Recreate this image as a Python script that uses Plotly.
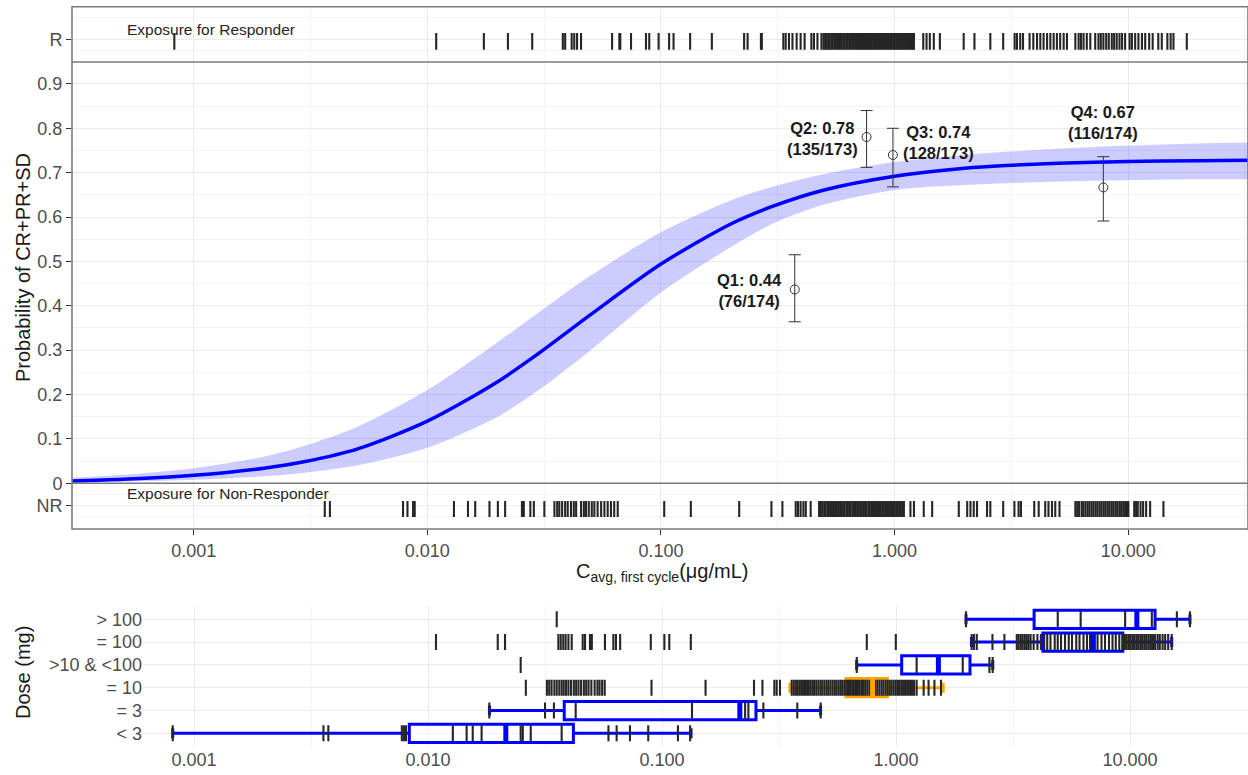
import numpy as np
import plotly.graph_objects as go

FONT = "Liberation Sans, Arial, sans-serif"
W, H = 1248, 775

# ---------------------------------------------------------------------------
# Logistic exposure-response fit: exposure grid (ug/mL), prediction and 95% band
conc_grid = [0.0003, 0.0005, 0.001, 0.002, 0.003, 0.005, 0.01, 0.02, 0.03, 0.05,
             0.1, 0.2, 0.3, 0.5, 1, 2, 3, 5, 10, 20, 33]
prob_fit = [0.005, 0.009, 0.018, 0.034, 0.049, 0.077, 0.140, 0.229, 0.293, 0.380,
            0.494, 0.585, 0.624, 0.661, 0.692, 0.710, 0.716, 0.721, 0.725, 0.727, 0.728]
prob_lo = [0.002, 0.004, 0.008, 0.016, 0.024, 0.040, 0.080, 0.150, 0.210, 0.300,
           0.430, 0.533, 0.585, 0.628, 0.661, 0.672, 0.676, 0.680, 0.683, 0.685, 0.685]
prob_hi = [0.012, 0.019, 0.034, 0.060, 0.085, 0.127, 0.210, 0.318, 0.385, 0.468,
           0.566, 0.638, 0.668, 0.697, 0.724, 0.740, 0.747, 0.754, 0.761, 0.766, 0.768]

# Observed response by exposure quartile
quartiles = ["Q1", "Q2", "Q3", "Q4"]
q_cavg = [0.374, 0.759, 0.984, 7.83]
q_resp = [76, 135, 128, 116]
q_n = [174, 173, 173, 174]
q_ci_lo = [0.364, 0.712, 0.668, 0.591]
q_ci_hi = [0.515, 0.840, 0.800, 0.736]

# Individual exposures (log10 ug/mL): responders and non-responders
resp_log_cavg = [
    -3.083, -1.962, -1.758, -1.655, -1.551, -1.420, -1.410, -1.382, -1.371, -1.359,
    -1.342, -1.209, -1.178, -1.174, -1.128, -1.064, -1.050, -1.010, -0.965, -0.946,
    -0.875, -0.782, -0.644, -0.629, -0.572, -0.568, -0.476, -0.466, -0.452, -0.437,
    -0.419, -0.402, -0.385, -0.356, -0.345, -0.330, -0.313,
    -0.304, -0.297, -0.291, -0.284, -0.279, -0.271, -0.265, -0.258, -0.252, -0.246,
    -0.238, -0.232, -0.226, -0.219, -0.213, -0.206, -0.200, -0.193, -0.187, -0.181,
    -0.174, -0.168, -0.161, -0.155, -0.148, -0.142, -0.135, -0.129, -0.122, -0.116,
    -0.109, -0.103, -0.097, -0.090, -0.084, -0.077, -0.071, -0.064, -0.058, -0.051,
    -0.045, -0.038, -0.032, -0.025, -0.019, -0.013, -0.006, 0.001, 0.007, 0.014,
    0.020, 0.027, 0.033, 0.040, 0.046, 0.053, 0.059, 0.066, 0.072, 0.078, 0.083,
    0.123, 0.137, 0.151, 0.168, 0.194, 0.296, 0.342, 0.410, 0.465, 0.514, 0.524,
    0.538, 0.550, 0.578, 0.594, 0.610, 0.624, 0.638, 0.653, 0.667, 0.681, 0.695,
    0.709, 0.724, 0.738, 0.774, 0.788, 0.798, 0.809, 0.823, 0.838, 0.859, 0.873,
    0.883, 0.894, 0.906, 0.917, 0.930, 0.940, 0.951, 0.963, 0.974, 0.987, 1.006,
    1.016, 1.030, 1.044, 1.059, 1.073, 1.090, 1.105, 1.129, 1.144, 1.168, 1.182,
    1.194, 1.251,
]
nonresp_log_cavg = [
    -2.439, -2.417, -2.104, -2.085, -2.061, -2.054, -1.886, -1.826, -1.795, -1.734,
    -1.698, -1.667, -1.595, -1.587, -1.559, -1.544, -1.499, -1.456, -1.444, -1.435,
    -1.423, -1.410, -1.399, -1.385, -1.373, -1.363, -1.342, -1.330, -1.321, -1.309,
    -1.296, -1.285, -1.271, -1.256, -1.242, -1.228, -1.214, -1.200, -1.185, -0.986,
    -0.872, -0.665, -0.527, -0.480, -0.423, -0.413, -0.402, -0.390, -0.380, -0.359,
    -0.323, -0.316, -0.309, -0.301, -0.295, -0.287, -0.281, -0.274, -0.268, -0.260,
    -0.254, -0.247, -0.241, -0.233, -0.227, -0.220, -0.214, -0.206, -0.200, -0.193,
    -0.188, -0.180, -0.173, -0.167, -0.160, -0.153, -0.146, -0.140, -0.133, -0.126,
    -0.120, -0.112, -0.106, -0.099, -0.092, -0.086, -0.079, -0.072, -0.066, -0.059,
    -0.052, -0.046, -0.039, -0.032, -0.026, -0.019, -0.012, -0.006, 0.001, 0.008,
    0.014, 0.021, 0.027, 0.034, 0.040, 0.068, 0.083, 0.125, 0.161, 0.275, 0.311,
    0.325, 0.339, 0.353, 0.396, 0.410, 0.465, 0.513, 0.531, 0.541, 0.598, 0.617,
    0.645, 0.659, 0.674, 0.688, 0.706, 0.774, 0.782, 0.790, 0.801, 0.808, 0.817,
    0.826, 0.834, 0.843, 0.851, 0.860, 0.868, 0.877, 0.885, 0.894, 0.902, 0.911,
    0.919, 0.928, 0.936, 0.945, 0.953, 0.962, 0.970, 0.979, 0.987, 0.995, 1.001,
    1.026, 1.034, 1.041, 1.053, 1.064, 1.077, 1.094, 1.151,
]

# Exposure by dose group (log10 ug/mL) and box statistics (ug/mL)
dose_groups = ["< 3", "= 3", "= 10", ">10 & <100", "= 100", "> 100"]
dose_log_cavg = {
    "< 3": [-3.091, -2.447, -2.426, -2.112, -2.103, -2.094, -1.894, -1.835, -1.809,
            -1.771, -1.667, -1.604, -1.595, -1.561, -1.429, -1.229, -1.194, -1.137,
            -1.059, -0.932, -0.880],
    "= 3": [-1.738, -1.500, -1.462, -1.369, -0.872, -0.645, -0.631, -0.567, -0.422,
            -0.322],
    "= 10": [-1.582, -1.492, -1.482, -1.472, -1.460, -1.450, -1.439, -1.429, -1.420,
             -1.410, -1.400, -1.389, -1.377, -1.367, -1.357, -1.346, -1.334, -1.324,
             -1.314, -1.302, -1.288, -1.276, -1.267, -1.256, -1.245, -1.045, -0.814,
             -0.607, -0.571, -0.520, -0.510, -0.496, -0.446, -0.437, -0.428, -0.420,
             -0.411, -0.402, -0.393, -0.385, -0.376, -0.367, -0.358, -0.350, -0.341,
             -0.332, -0.323, -0.315, -0.306, -0.297, -0.289, -0.280, -0.271, -0.262,
             -0.254, -0.245, -0.236, -0.228, -0.219, -0.210, -0.201, -0.193, -0.184,
             -0.175, -0.167, -0.158, -0.149, -0.141, -0.132, -0.123, -0.114, -0.106,
             -0.097, -0.088, -0.080, -0.071, -0.062, -0.054, -0.045, -0.036, -0.027,
             -0.019, -0.010, -0.001, 0.008, 0.016, 0.025, 0.034, 0.042, 0.051, 0.060,
             0.068, 0.077, 0.088, 0.118, 0.139, 0.164, 0.192],
    ">10 & <100": [-1.604, -0.168, 0.088, 0.181, 0.285, 0.399, 0.413],
    "= 100": [-1.966, -1.702, -1.671, -1.443, -1.433, -1.422, -1.412, -1.400, -1.386,
              -1.339, -1.329, -1.308, -1.300, -1.244, -1.208, -1.197, -1.179, -1.048,
              -0.990, -0.969, -0.877, -0.125, -0.001, 0.323, 0.333, 0.345, 0.412,
              0.463, 0.516, 0.524, 0.533, 0.541, 0.550, 0.558, 0.566, 0.575, 0.588,
              0.604, 0.619, 0.633, 0.646, 0.660, 0.678, 0.691, 0.705, 0.722, 0.738,
              0.752, 0.770, 0.784, 0.801, 0.816, 0.829, 0.846, 0.861, 0.878, 0.893,
              0.910, 0.925, 0.939, 0.954, 0.969, 0.978, 0.986, 0.995, 1.003, 1.012,
              1.020, 1.029, 1.037, 1.046, 1.054, 1.063, 1.071, 1.080, 1.089, 1.098,
              1.107, 1.118, 1.127, 1.139, 1.150, 1.163, 1.178],
    "> 100": [-1.450, 0.299, 0.691, 0.789, 0.979, 1.029, 1.093, 1.200, 1.256],
}
box_lowerfence = [0.000811, 0.0183, 0.352, 0.679, 2.10, 1.99]
box_q1 = [0.00832, 0.0382, 0.611, 1.057, 4.24, 3.89]
box_median = [0.0215, 0.215, 0.794, 1.517, 6.97, 10.69]
box_q3 = [0.0418, 0.252, 0.918, 2.07, 9.31, 12.79]
box_upperfence = [0.133, 0.476, 1.59, 2.59, 15.07, 18.03]
box_colors = ["#0000FF", "#0000FF", "#FFA500", "#0000FF", "#0000FF", "#0000FF"]

# ---------------------------------------------------------------------------
GRID = "#EBEBEB"
MINOR_GRID = "#F4F4F4"
TICK_FONT = dict(family=FONT, size=18, color="#4D4D4D")
RUG_COLOR = "#262626"
RUG_WIDTH = 2.1
BORDER = "#7A7A7A"


def rug_segments(values, y0, y1):
    xs, ys = [], []
    for v in values:
        xs += [v, v, None]
        ys += [y0, y1, None]
    return xs, ys


fig = go.Figure()

# confidence band and fitted curve
fig.add_trace(go.Scatter(x=conc_grid, y=prob_lo, mode="lines",
                         line=dict(width=0, shape="spline", smoothing=0.8),
                         hoverinfo="skip", showlegend=False))
fig.add_trace(go.Scatter(x=conc_grid, y=prob_hi, mode="lines",
                         line=dict(width=0, shape="spline", smoothing=0.8),
                         fill="tonexty", fillcolor="rgba(0,0,255,0.2)",
                         hoverinfo="skip", showlegend=False))
fig.add_trace(go.Scatter(x=conc_grid, y=prob_fit, mode="lines",
                         line=dict(color="#0000FF", width=3.5, shape="spline", smoothing=0.8),
                         showlegend=False))

# exposure rugs for responders (R, y=1) and non-responders (NR, y=-0.05)
resp_cavg = 10 ** np.array(resp_log_cavg)
nonresp_cavg = 10 ** np.array(nonresp_log_cavg)
rx, ry = rug_segments(resp_cavg, 0.977, 1.015)
fig.add_trace(go.Scatter(x=rx, y=ry, mode="lines", line=dict(color=RUG_COLOR, width=RUG_WIDTH),
                         hoverinfo="skip", showlegend=False))
nx, ny = rug_segments(nonresp_cavg, -0.076, -0.040)
fig.add_trace(go.Scatter(x=nx, y=ny, mode="lines", line=dict(color=RUG_COLOR, width=RUG_WIDTH),
                         hoverinfo="skip", showlegend=False))

# observed quartile response rates with 95% CI
q_prop = [r / n for r, n in zip(q_resp, q_n)]
fig.add_trace(go.Scatter(
    x=q_cavg, y=q_prop, mode="markers",
    marker=dict(symbol="circle-open", size=9, color="#333333", line=dict(width=1)),
    error_y=dict(type="data", symmetric=False,
                 array=[h - p for h, p in zip(q_ci_hi, q_prop)],
                 arrayminus=[p - l for l, p in zip(q_ci_lo, q_prop)],
                 color="#333333", thickness=1, width=6),
    showlegend=False))

# dose-group panel: rugs, boxes, medians
half = 0.35
for i, g in enumerate(dose_groups):
    gx, gy = rug_segments(10 ** np.array(dose_log_cavg[g]), i - half, i + half)
    fig.add_trace(go.Scatter(x=gx, y=gy, mode="lines", xaxis="x2", yaxis="y2",
                             line=dict(color=RUG_COLOR, width=RUG_WIDTH),
                             hoverinfo="skip", showlegend=False))
for i, g in enumerate(dose_groups):
    fig.add_trace(go.Box(
        y=[i], q1=[box_q1[i]], median=[box_median[i]], q3=[box_q3[i]],
        lowerfence=[box_lowerfence[i]], upperfence=[box_upperfence[i]],
        orientation="h", xaxis="x2", yaxis="y2", boxpoints=False,
        width=0.8, whiskerwidth=0.55,
        line=dict(color=box_colors[i], width=3),
        fillcolor="rgba(255,255,255,0.4)", showlegend=False, name=g))
    fig.add_trace(go.Scatter(
        x=[box_median[i], box_median[i]], y=[i - 0.38, i + 0.38], mode="lines",
        xaxis="x2", yaxis="y2", line=dict(color=box_colors[i], width=5),
        hoverinfo="skip", showlegend=False))

# ---------------------------------------------------------------------------
x_major = [0.001, 0.01, 0.1, 1, 10]
x_major_text = ["0.001", "0.010", "0.100", "1.000", "10.000"]
x_minor = [10 ** (k + 0.5) for k in range(-4, 2)]

y_major = [-0.05] + [k / 10 for k in range(10)] + [1.0]
y_major_text = ["NR", "0"] + [f"{k/10:g}" for k in range(1, 10)] + ["R"]
y_minor = [-0.075, -0.025] + [k / 10 + 0.05 for k in range(9)] + [0.975, 1.05]

main_dom_y = [1 - 529 / H, 1 - 6.7 / H]
dose_dom_y = [1 - 747 / H, 1 - 605.6 / H]

fig.update_layout(
    width=W, height=H,
    margin=dict(l=0, r=0, t=0, b=0),
    paper_bgcolor="white", plot_bgcolor="white",
    font=dict(family=FONT),
    xaxis=dict(domain=[72 / W, 1], type="log", range=[-3.521, 1.513],
               tickmode="array", tickvals=x_major, ticktext=x_major_text,
               showgrid=True, gridcolor=GRID, gridwidth=1, zeroline=False,
               ticks="outside", ticklen=5, tickcolor="#333333", tickwidth=1,
               tickfont=TICK_FONT, showline=False, anchor="y",
               minor=dict(tickmode="array", tickvals=x_minor, showgrid=True,
                          gridcolor=MINOR_GRID, ticks="")),
    yaxis=dict(domain=main_dom_y, range=[-0.103, 1.074],
               tickmode="array", tickvals=y_major, ticktext=y_major_text,
               showgrid=True, gridcolor=GRID, zeroline=False,
               ticks="outside", ticklen=5, tickcolor="#333333", tickwidth=1,
               tickfont=TICK_FONT, showline=False, anchor="x",
               minor=dict(tickmode="array", tickvals=y_minor, showgrid=True,
                          gridcolor=MINOR_GRID, ticks="")),
    xaxis2=dict(domain=[143 / W, 1], type="log", range=[-3.218, 1.504],
                tickmode="array", tickvals=x_major, ticktext=x_major_text,
                showgrid=True, gridcolor=GRID, zeroline=False, ticks="",
                tickfont=TICK_FONT, showline=False, anchor="y2",
                minor=dict(tickmode="array", tickvals=x_minor, showgrid=True,
                           gridcolor=MINOR_GRID, ticks="")),
    yaxis2=dict(domain=dose_dom_y, range=[-0.6, 5.6],
                tickmode="array", tickvals=list(range(len(dose_groups))),
                ticktext=dose_groups, showgrid=True, gridcolor=GRID,
                zeroline=False, ticks="", tickfont=TICK_FONT,
                showline=False, anchor="x2"),
)

# panel border and strip separators
shapes = [
    dict(type="rect", xref="paper", yref="paper", x0=72 / W, x1=1,
         y0=main_dom_y[0], y1=main_dom_y[1], line=dict(color=BORDER, width=1.6)),
    dict(type="line", xref="paper", yref="y", x0=72 / W, x1=1, y0=0, y1=0,
         line=dict(color=BORDER, width=1.6)),
    dict(type="line", xref="paper", yref="y", x0=72 / W, x1=1, y0=0.9495, y1=0.9495,
         line=dict(color=BORDER, width=1.6)),
]
fig.update_layout(shapes=shapes)

annotations = [
    dict(text="Exposure for Responder", xref="paper", yref="paper",
         x=125 / W, y=1 - 30 / H, xanchor="left", yanchor="middle", showarrow=False,
         font=dict(family=FONT, size=15.5, color="#262626")),
    dict(text="Exposure for Non-Responder", xref="paper", yref="paper",
         x=125 / W, y=1 - 493 / H, xanchor="left", yanchor="middle", showarrow=False,
         font=dict(family=FONT, size=15.5, color="#262626")),
    dict(text="Probability of CR+PR+SD", xref="paper", yref="paper",
         x=23 / W, y=1 - 268 / H, xanchor="center", yanchor="middle", textangle=-90,
         showarrow=False, font=dict(family=FONT, size=20, color="#1A1A1A")),
    dict(text="C<sub>avg, first cycle</sub>(\u03bcg/mL)", xref="paper", yref="paper",
         x=662 / W, y=1 - 572 / H, xanchor="center", yanchor="middle",
         showarrow=False, font=dict(family=FONT, size=20, color="#1A1A1A")),
    dict(text="Dose (mg)", xref="paper", yref="paper",
         x=23 / W, y=1 - 673 / H, xanchor="center", yanchor="middle", textangle=-90,
         showarrow=False, font=dict(family=FONT, size=20, color="#1A1A1A")),
]
label_shift = [(-45, -1), (-44, -1), (46, 12), (0, 65)]
for q, c, r, n, p, (dx, dy) in zip(quartiles, q_cavg, q_resp, q_n, q_prop, label_shift):
    annotations.append(dict(
        text=f"<b>{q}: {p:.2f}</b><br><b>({r}/{n})</b>",
        xref="x", yref="y", x=np.log10(c), y=p, xshift=dx, yshift=dy,
        xanchor="center", yanchor="middle", align="center", showarrow=False,
        font=dict(family=FONT, size=16.5, color="#1A1A1A")))
fig.update_layout(annotations=annotations)

fig.write_html("out.html")
